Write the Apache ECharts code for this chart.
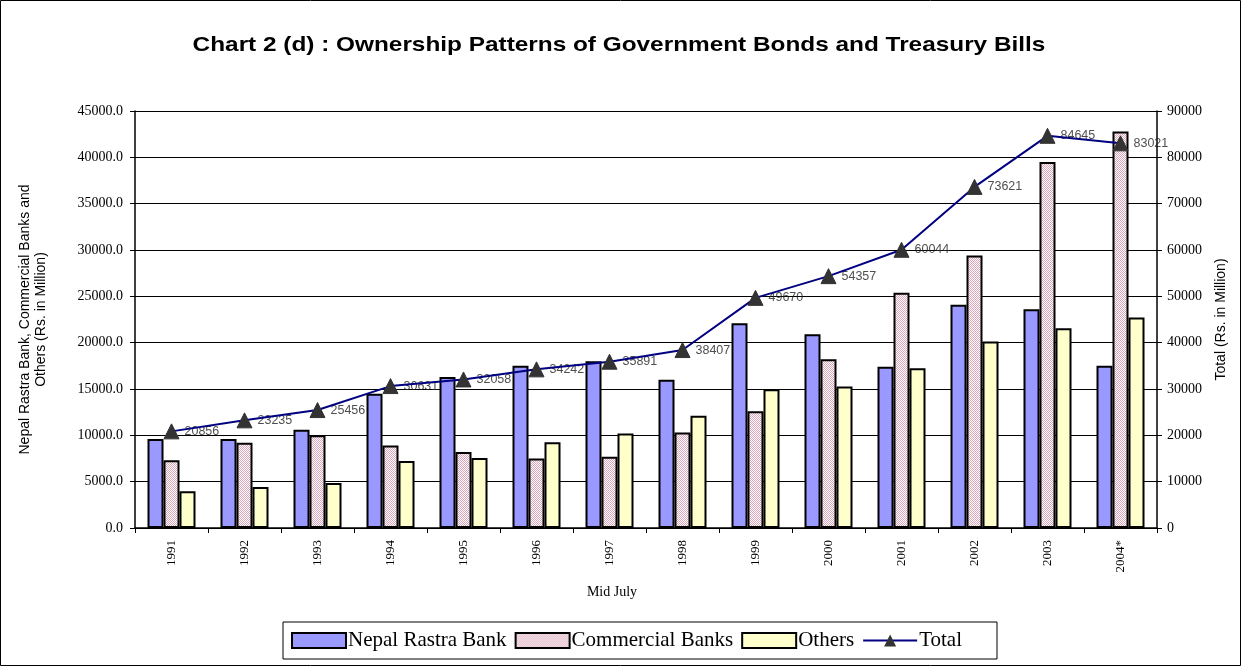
<!DOCTYPE html>
<html>
<head>
<meta charset="utf-8">
<script src="https://cdn.jsdelivr.net/npm/echarts@6/dist/echarts.min.js"></script>
<style>
  html, body { margin: 0; padding: 0; background: #fff; }
  #chart { width: 1242px; height: 667px; }
</style>
</head>
<body>
<div id="chart"></div>
<script>
// Mid-July figures, Rs. in million
const years = ['1991', '1992', '1993', '1994', '1995', '1996', '1997', '1998', '1999', '2000', '2001', '2002', '2003', '2004*'];
const nepalRastraBank = [9600, 9600, 10600, 14500, 16300, 17500, 18000, 16000, 22100, 20900, 17400, 24100, 23600, 17500];
const commercialBanks = [7300, 9200, 10000, 8900, 8200, 7500, 7700, 10300, 12600, 18200, 25400, 29400, 39500, 42800];
const others = [3956, 4435, 4856, 7231, 7558, 9242, 10191, 12107, 14970, 15257, 17244, 20121, 21545, 22721];
const totals = [20856, 23235, 25456, 30631, 32058, 34242, 35891, 38407, 49670, 54357, 60044, 73621, 84645, 83021];

const leftTicks = { min: 0, max: 45000, interval: 5000 };
const rightTicks = { min: 0, max: 90000, interval: 10000 };

const chartTitle = 'Chart 2 (d) : Ownership Patterns of Government Bonds and Treasury Bills';

// fine pink dither used as the commercial banks fill
function dotPattern() {
  const c = document.createElement('canvas');
  c.width = 4; c.height = 4;
  const g = c.getContext('2d');
  g.fillStyle = '#ffffff';
  g.fillRect(0, 0, 4, 4);
  g.fillStyle = '#dca6b8';
  for (let y = 0; y < 4; y++) {
    for (let x = 0; x < 4; x++) {
      if ((x + y) % 2 === 0) g.fillRect(x, y, 1, 1);
    }
  }
  return c;
}
const pinkDots = { image: dotPattern(), repeat: 'repeat' };

const serif = '"Liberation Serif", "Times New Roman", serif';
const sans = '"Liberation Sans", Arial, sans-serif';

const barStyle = (fill) => ({ color: fill, borderColor: '#000', borderWidth: 2 });

const chart = echarts.init(document.getElementById('chart'), null, { renderer: 'canvas' });
chart.setOption({
  backgroundColor: '#fff',
  animation: false,
  graphic: [
    {
      type: 'rect',
      shape: { x: 0.5, y: 0.5, width: 1240, height: 665 },
      style: { fill: 'none', stroke: '#000', lineWidth: 1 },
      silent: true
    },
    {
      // chart heading, drawn slightly widened
      type: 'text',
      x: 619, y: 45, scaleX: 1.16,
      style: {
        text: chartTitle, x: 0, y: 0, align: 'center', verticalAlign: 'middle',
        font: 'bold 21px ' + sans, fill: '#000'
      }
    },
    {
      type: 'text',
      x: 612, y: 592,
      style: {
        text: 'Mid July', x: 0, y: 0, align: 'center', verticalAlign: 'middle',
        font: '14px ' + serif, fill: '#000'
      }
    }
  ],
  legend: {
    left: 283,
    top: 622,
    padding: [8, 35, 8, 8],
    itemGap: 8,
    itemWidth: 54,
    itemHeight: 15,
    borderColor: '#000',
    borderWidth: 1,
    textStyle: { fontFamily: serif, fontSize: 21, color: '#000', padding: [0, 0, 0, -3] },
    data: [
      { name: 'Nepal Rastra Bank', icon: 'rect' },
      { name: 'Commercial Banks', icon: 'rect' },
      { name: 'Others', icon: 'rect' },
      { name: 'Total' }
    ]
  },
  grid: { left: 135, right: 85, top: 111, bottom: 139, containLabel: false },
  xAxis: {
    type: 'category',
    data: years,
    boundaryGap: true,
    axisLine: { lineStyle: { color: '#000', width: 1.5 } },
    axisTick: { show: true, length: 5, lineStyle: { color: '#000' } },
    axisLabel: { rotate: 90, margin: 12, fontFamily: serif, fontSize: 13, color: '#000' }
  },
  yAxis: [
    {
      type: 'value',
      min: leftTicks.min, max: leftTicks.max, interval: leftTicks.interval,
      position: 'left',
      name: 'Nepal Rastra Bank, Commercial Banks and\nOthers (Rs. in Million)',
      nameLocation: 'middle',
      nameRotate: 90,
      nameGap: 86,
      nameTextStyle: { fontFamily: sans, fontSize: 14, color: '#000', lineHeight: 16 },
      axisLine: { show: true, lineStyle: { color: '#000', width: 1.5 } },
      axisTick: { show: true, length: 5, lineStyle: { color: '#000' } },
      axisLabel: { margin: 12, fontFamily: serif, fontSize: 14, color: '#000', formatter: v => v.toFixed(1) },
      splitLine: { show: true, lineStyle: { color: '#000', width: 1 } }
    },
    {
      type: 'value',
      min: rightTicks.min, max: rightTicks.max, interval: rightTicks.interval,
      position: 'right',
      name: 'Total (Rs. in Million)',
      nameLocation: 'middle',
      nameRotate: 90,
      nameGap: 57,
      nameTextStyle: { fontFamily: sans, fontSize: 14, color: '#000' },
      axisLine: { show: true, lineStyle: { color: '#000', width: 1.5 } },
      axisTick: { show: true, length: 5, lineStyle: { color: '#000' } },
      axisLabel: { margin: 10, fontFamily: serif, fontSize: 14, color: '#000', formatter: v => String(v) },
      splitLine: { show: false }
    }
  ],
  series: [
    {
      name: 'Nepal Rastra Bank', type: 'bar', data: nepalRastraBank,
      barWidth: 16, barGap: '0%', z: 2,
      itemStyle: barStyle('#9999ff')
    },
    {
      name: 'Commercial Banks', type: 'bar', data: commercialBanks,
      barWidth: 16, barGap: '0%', z: 2,
      itemStyle: barStyle(pinkDots)
    },
    {
      name: 'Others', type: 'bar', data: others,
      barWidth: 16, barGap: '0%', z: 2,
      itemStyle: barStyle('#ffffcc')
    },
    {
      // value labels of the total, drawn beneath the bars
      name: 'Total values', type: 'scatter', yAxisIndex: 1, data: totals,
      symbolSize: 2, itemStyle: { color: 'rgba(0,0,0,0)' }, z: 1, silent: true,
      label: {
        show: true, position: 'right', distance: 12,
        fontFamily: sans, fontSize: 12.5, color: '#222',
        formatter: p => String(totals[p.dataIndex])
      }
    },
    {
      name: 'Total', type: 'line', yAxisIndex: 1, data: totals, z: 3,
      symbol: 'triangle', symbolSize: [15, 15],
      lineStyle: { color: '#000080', width: 2 },
      itemStyle: { color: '#333333', borderColor: '#333333' }
    }
  ]
});
</script>
</body>
</html>
